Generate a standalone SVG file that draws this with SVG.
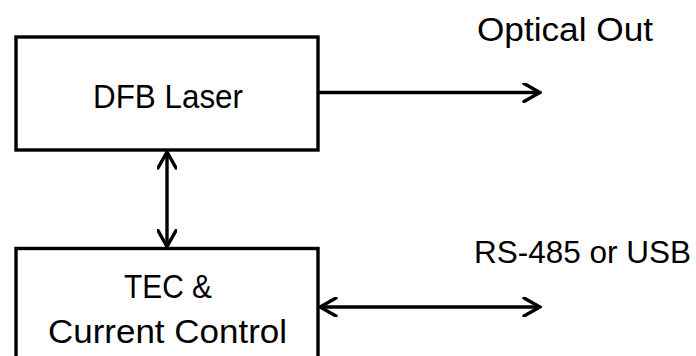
<svg xmlns="http://www.w3.org/2000/svg" width="696" height="356" viewBox="0 0 696 356">
<style>
.box{fill:#fff;stroke:#000;stroke-width:3.4}
.lbl{font-family:"Liberation Sans","Open Sans",Arial,sans-serif;font-size:34px;fill:#000}
.ln{stroke:#000;stroke-width:3.4;fill:none}
</style>
<defs>
<marker id="arr" viewBox="0 0 20 20" refX="18" refY="10" markerWidth="20" markerHeight="20" markerUnits="userSpaceOnUse" orient="auto-start-reverse">
<path d="M2,1 L18,10 L2,19" fill="none" stroke="#000" stroke-width="3.4" stroke-linecap="round" stroke-linejoin="miter"/>
</marker>
</defs>
<rect width="696" height="356" fill="#fff"/>
<g id="connectors">
<line class="ln" x1="318" y1="92.5" x2="540" y2="92.5" marker-end="url(#arr)"/>
<line class="ln" x1="167" y1="152" x2="167" y2="246.5" marker-start="url(#arr)" marker-end="url(#arr)"/>
<line class="ln" x1="320" y1="307" x2="540" y2="307" marker-start="url(#arr)" marker-end="url(#arr)"/>
</g>
<g id="dfb">
<rect class="box" x="16" y="37" width="302" height="113"/>
<text class="lbl" x="93" y="108" textLength="150" lengthAdjust="spacingAndGlyphs">DFB Laser</text>
</g>
<g id="tec">
<rect class="box" x="16" y="248.5" width="302" height="120"/>
<text class="lbl" x="124" y="298" textLength="88" lengthAdjust="spacingAndGlyphs">TEC &amp;</text>
<text class="lbl" x="48" y="343" textLength="239" lengthAdjust="spacingAndGlyphs">Current Control</text>
</g>
<g id="optical-out">
<text class="lbl" x="477" y="41" textLength="176" lengthAdjust="spacingAndGlyphs">Optical Out</text>
</g>
<g id="rs485">
<text class="lbl" x="474" y="263" style="font-size:31.5px">RS-485 or USB</text>
</g>
</svg>
